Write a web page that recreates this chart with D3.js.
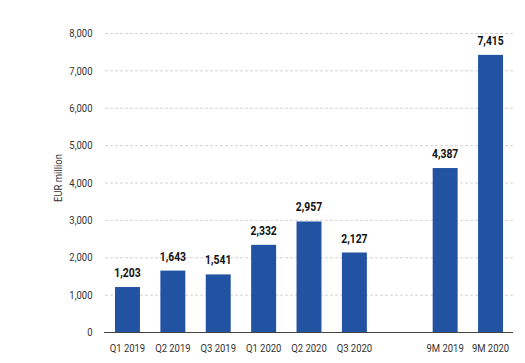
<!DOCTYPE html>
<html>
<head>
<meta charset="utf-8">
<script src="https://cdn.jsdelivr.net/npm/d3@7"></script>
<style>
  body { margin: 0; background: #fff; }
  svg text { font-family: "Roboto", "Liberation Sans", sans-serif; }
</style>
</head>
<body>
<svg width="525" height="363"></svg>
<script>
var categories = ["Q1 2019", "Q2 2019", "Q3 2019", "Q1 2020", "Q2 2020", "Q3 2020", "", "9M 2019", "9M 2020"];
var values = [1203, 1643, 1541, 2332, 2957, 2127, null, 4387, 7415];
var yTicks = [0, 1000, 2000, 3000, 4000, 5000, 6000, 7000, 8000];

var svg = d3.select("svg");
var mLeft = 105, mRight = 513, mTop = 33, mBottom = 332;
var narrow = 0.81; // squeeze Roboto to look like the condensed face

var x = d3.scaleBand()
  .domain(categories)
  .range([mLeft, mRight])
  .paddingInner(0.45)
  .paddingOuter(0.22);

var y = d3.scaleLinear()
  .domain([0, 8000])
  .range([mBottom, mTop]);

var fmt = d3.format(",");
var at = (px, py) => "translate(" + px + "," + py + ") scale(" + narrow + ",1)";

// gridlines
svg.append("g")
  .selectAll("line")
  .data(yTicks.filter(d => d > 0))
  .enter()
  .append("line")
  .attr("x1", mLeft)
  .attr("x2", mRight)
  .attr("y1", d => y(d) + 0.5)
  .attr("y2", d => y(d) + 0.5)
  .attr("stroke", "#d4d4d4")
  .attr("stroke-dasharray", "3,2");

// y tick labels
svg.append("g")
  .selectAll("text")
  .data(yTicks)
  .enter()
  .append("text")
  .attr("transform", d => at(92.5, y(d)))
  .attr("dy", "0.36em")
  .attr("text-anchor", "end")
  .attr("font-size", 11.7)
  .attr("fill", "#333")
  .text(fmt);

// axis title
svg.append("text")
  .attr("transform", "translate(61.5,178) rotate(-90) scale(" + narrow + ",1)")
  .attr("text-anchor", "middle")
  .attr("font-size", 11.7)
  .attr("fill", "#333")
  .text("EUR million");

var data = categories.map((c, i) => ({ c: c, v: values[i] })).filter(d => d.v != null);

// bars
svg.append("g")
  .selectAll("rect")
  .data(data)
  .enter()
  .append("rect")
  .attr("x", d => x(d.c))
  .attr("width", x.bandwidth())
  .attr("y", d => y(d.v))
  .attr("height", d => y(0) - y(d.v))
  .attr("fill", "#2253a3");

// value labels
svg.append("g")
  .selectAll("text")
  .data(data)
  .enter()
  .append("text")
  .attr("transform", d => at(x(d.c) + x.bandwidth() / 2, y(d.v) - 10))
  .attr("text-anchor", "middle")
  .attr("font-size", 12.8)
  .attr("font-weight", "bold")
  .attr("fill", "#111")
  .text(d => fmt(d.v));

// baseline
svg.append("line")
  .attr("x1", mLeft - 1)
  .attr("x2", mRight)
  .attr("y1", y(0) + 0.5)
  .attr("y2", y(0) + 0.5)
  .attr("stroke", "#444")
  .attr("stroke-width", 1.2);

// x labels
svg.append("g")
  .selectAll("text")
  .data(data)
  .enter()
  .append("text")
  .attr("transform", d => at(x(d.c) + x.bandwidth() / 2, 352))
  .attr("text-anchor", "middle")
  .attr("font-size", 11.7)
  .attr("fill", "#333")
  .text(d => d.c);
</script>
</body>
</html>
